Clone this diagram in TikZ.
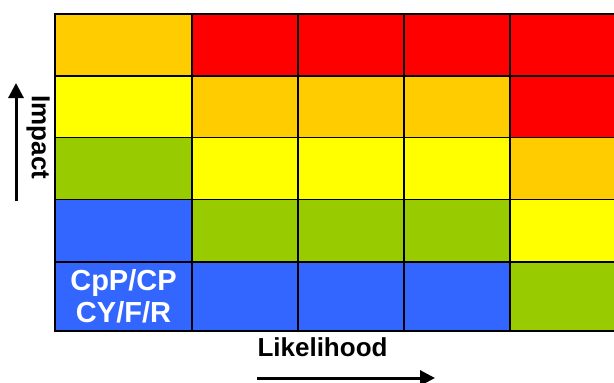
\documentclass[tikz,border=0pt]{standalone}
\usepackage{fontspec}
\setmainfont{Liberation Sans}
\usetikzlibrary{arrows.meta}
\definecolor{cOr}{HTML}{FFCC00}
\definecolor{cRe}{HTML}{FF0000}
\definecolor{cYe}{HTML}{FFFF00}
\definecolor{cGr}{HTML}{99CC00}
\definecolor{cBl}{HTML}{3366FF}
\begin{document}
\begin{tikzpicture}[x=1pt,y=-1pt,
  cell/.style={draw=black,line width=1.4pt},
  axlabel/.style={font=\fontsize{26}{28}\selectfont\bfseries,inner sep=0pt},
  axarrow/.style={line width=3pt,-{Triangle[length=15pt,width=15pt]}}]
\useasboundingbox (0,0) rectangle (614,383);
\begin{scope}
\clip (0,0) rectangle (614,383);
\def\xs{{55,192,298,404,510,620}}
\def\ys{{14,76,137.5,199.5,262,331}}
\foreach \r/\cols in {0/{cOr,cRe,cRe,cRe,cRe},1/{cYe,cOr,cOr,cOr,cRe},2/{cGr,cYe,cYe,cYe,cOr},3/{cBl,cGr,cGr,cGr,cYe},4/{cBl,cBl,cBl,cBl,cGr}}{
  \foreach \c [count=\i from 0] in \cols {
    \pgfmathsetmacro\xa{\xs[\i]}
    \pgfmathsetmacro\xb{\xs[\i+1]}
    \pgfmathsetmacro\ya{\ys[\r]}
    \pgfmathsetmacro\yb{\ys[\r+1]}
    \draw[cell,fill=\c] (\xa,\ya) rectangle (\xb,\yb);
  }
}
\end{scope}
\node[align=center,text=white,font=\fontsize{29}{32}\selectfont\bfseries,inner sep=0pt] (lbl) at (123.5,296) {CpP/CP\\CY/F/R};
\node[axlabel,rotate=-90] (imp) at (38,137.5) {Impact};
\node[axlabel] (lik) at (322.5,347) {Likelihood};
\coordinate (ia) at (16,201);
\coordinate (ib) at (16,83);
\coordinate (la) at (257,378);
\coordinate (lb) at (435,378);
\draw[axarrow] (ia) -- (ib);
\draw[axarrow] (la) -- (lb);
\end{tikzpicture}
\end{document}
